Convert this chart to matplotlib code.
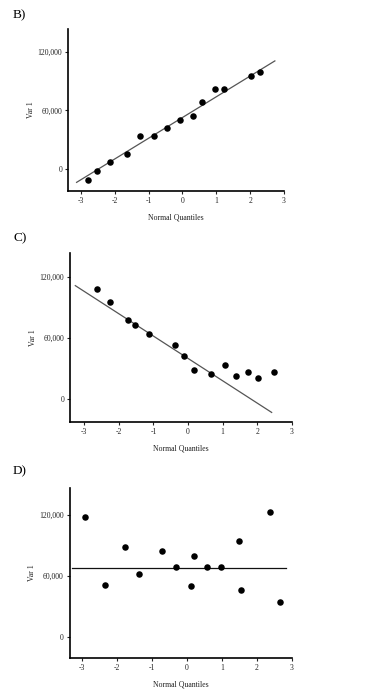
import matplotlib
matplotlib.use("Agg")
import matplotlib.pyplot as plt

plt.rcParams['font.family'] = ['Liberation Serif', 'DejaVu Serif']

# Panel B
b_x = [-2.80, -2.54, -2.15, -1.63, -1.25, -0.85, -0.46, -0.06, 0.32, 0.58, 0.97, 1.23, 2.01, 2.28]
b_y = [-10800, -2000, 7100, 15900, 33800, 33800, 42300, 50700, 54800, 68300, 81500, 81500, 95000, 99400]
b_line_x = [-3.13, 2.73]
b_line_y = [-13200, 110500]

# Panel C
c_x = [-2.62, -2.26, -1.75, -1.52, -1.12, -0.39, -0.11, 0.16, 0.67, 1.08, 1.40, 1.73, 2.03, 2.48]
c_y = [108200, 95500, 77500, 72900, 64100, 53000, 41900, 28800, 24200, 33000, 22200, 26500, 20300, 26500]
c_line_x = [-3.26, 2.42]
c_line_y = [111200, -13100]

# Panel D
d_x = [-2.91, -2.35, -1.78, -1.38, -0.72, -0.32, 0.13, 0.21, 0.59, 0.97, 1.49, 1.56, 2.38, 2.67]
d_y = [117700, 50800, 88500, 61600, 84300, 68500, 50200, 79700, 68500, 68500, 94400, 46200, 122600, 33800]
d_line_x = [-3.29, 2.83]
d_line_y = [67900, 67900]

x_ticks = [-3, -2, -1, 0, 1, 2, 3]
x_ticklabels = ['-3', '-2', '-1', '0', '1', '2', '3']
y_ticks = [0, 60000, 120000]
y_ticklabels = ['0', '60,000', '120,000']

W, H = 376, 698
fig = plt.figure(figsize=(W / 100, H / 100), dpi=100)

panels = [
    dict(label='B)', lab_y=15, box=(68.3, 29, 284, 191), xlim=(-3.375, 3.0), ylim=(-22000, 143000),
         x=b_x, y=b_y, lx=b_line_x, ly=b_line_y, lc='#555555'),
    dict(label='C)', lab_y=238, box=(70.3, 252.7, 291.7, 421.7), xlim=(-3.405, 3.0), ylim=(-22200, 143500),
         x=c_x, y=c_y, lx=c_line_x, ly=c_line_y, lc='#555555'),
    dict(label='D)', lab_y=471, box=(69.7, 487.7, 291.7, 658), xlim=(-3.35, 3.0), ylim=(-21000, 146600),
         x=d_x, y=d_y, lx=d_line_x, ly=d_line_y, lc='#111111'),
]

for p in panels:
    l, t, r, b = p['box']
    ax = fig.add_axes([l / W, 1 - b / H, (r - l) / W, (b - t) / H])
    ax.plot(p['lx'], p['ly'], color=p['lc'], lw=0.9)
    ax.scatter(p['x'], p['y'], s=22, color='black', zorder=3, linewidths=0)
    ax.set_xlim(*p['xlim'])
    ax.set_ylim(*p['ylim'])
    ax.set_xticks(x_ticks)
    ax.set_xticklabels(x_ticklabels)
    ax.set_yticks(y_ticks)
    ax.set_yticklabels(y_ticklabels)
    for s in ['top', 'right']:
        ax.spines[s].set_visible(False)
    for s in ['left', 'bottom']:
        ax.spines[s].set_linewidth(1.2)
    ax.tick_params(direction='out', length=2.5, width=0.8, labelsize=5.5, colors='#222222', pad=2)
    ax.set_xlabel('Normal Quantiles', fontsize=5.6, labelpad=6, color='#222222')
    ax.set_ylabel('Var 1', fontsize=5.6, labelpad=2, color='#222222')
    fig.text(13 / W, 1 - p['lab_y'] / H, p['label'], fontsize=9.5, va='center', ha='left')

fig.savefig('out.png', dpi=100)
